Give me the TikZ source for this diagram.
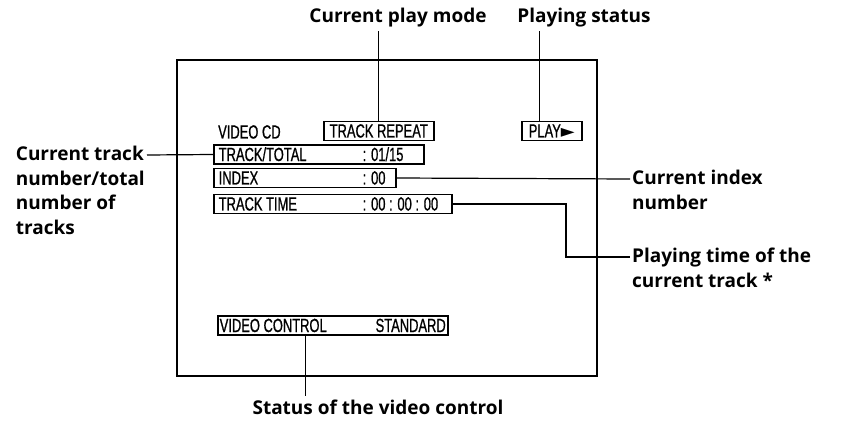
\documentclass[tikz,border=0pt]{standalone}
\usepackage{fontspec}
\setmainfont{Open Sans}
\newfontfamily\screenfont[FakeStretch=0.68,FakeBold=0.8]{Liberation Sans}
\newfontfamily\symfont{DejaVu Sans}
\newcommand{\scrrow}[3]{\makebox[#1][l]{\makebox[144pt][l]{#2}#3}}

\begin{document}
\begin{tikzpicture}[x=1pt,y=-1pt,
    callout/.style={font=\fontsize{19}{24.5}\selectfont\bfseries,align=left,inner sep=2pt},
    screentext/.style={font=\fontsize{19}{19}\selectfont\screenfont,inner sep=0pt,
                       text height=14pt,text depth=1pt},
    scrbox/.style={screentext,draw,line width=1.5pt,minimum height=19pt,
                   inner xsep=5pt,anchor=west},
    lead/.style={line width=1.2pt}]

  \useasboundingbox (0,0) rectangle (841,425);

  % ===== SCREEN =====
  \draw[line width=1.4pt] (177,60) rectangle (597,376);
  \node[screentext,anchor=west] (vcd) at (218,132) {VIDEO CD};
  \node[scrbox,minimum width=110pt] (repeat) at (323,131) {TRACK REPEAT};
  \node[scrbox,minimum width=60pt,inner xsep=3pt] (play) at (521,131)
        {PLAY{\symfont\fontsize{18}{14}\selectfont ►}};
  \node[scrbox] (total) at (213,154.5) {\scrrow{200pt}{TRACK/TOTAL}{: 01/15}};
  \node[scrbox] (index) at (213,178) {\scrrow{172pt}{INDEX}{: 00}};
  \node[scrbox] (time) at (213,204) {\scrrow{228pt}{TRACK TIME}{: 00 : 00 : 00}};
  \node[scrbox,inner xsep=2pt] (vctl) at (217,325.5)
        {\makebox[226pt][l]{VIDEO CONTROL\hfill STANDARD}};

  % ===== TOP CALLOUTS =====
  \node[callout,outer sep=2pt] (mode) at (398,18) {Current play mode};
  \node[callout,outer sep=2pt] (status) at (584,18) {Playing status};
  \draw[lead] (repeat.north) -- (repeat.north |- mode.south);
  \draw[lead] ([xshift=-12pt]play.north) -- ([xshift=-12pt]play.north |- status.south);

  % ===== LEFT CALLOUT =====
  \coordinate (trackpt) at (147,155);
  \node[callout,anchor=north east] (trackl) at ([yshift=11pt]trackpt)
        {Current track\\number/total\\number of\\tracks};
  \draw[lead] (total.west) -- (trackpt);

  % ===== RIGHT CALLOUTS =====
  \coordinate (indexpt) at (630,179);
  \node[callout,anchor=north west] (indexl) at ([yshift=11pt]indexpt)
        {Current index\\number};
  \draw[lead] (index.east) -- (indexpt);

  \coordinate (timejog) at (566,257);
  \coordinate (timept) at (630,257);
  \node[callout,anchor=north west] (timel) at ([yshift=11pt]timept)
        {Playing time of the\\current track *};
  \draw[lead] (time.east) -| (timejog) -- (timept);

  % ===== BOTTOM CALLOUT =====
  \node[callout,outer sep=2pt] (vcl) at (378,407) {Status of the video control};
  \draw[lead] ([xshift=-27pt]vctl.south) -- ([xshift=-27pt]vctl.south |- vcl.north);

\end{tikzpicture}
\end{document}
